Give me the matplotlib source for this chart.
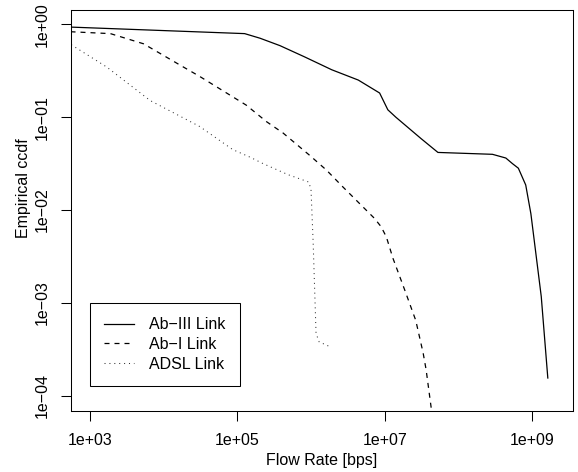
import matplotlib
matplotlib.use('Agg')
import matplotlib.pyplot as plt

plt.rcParams['font.family'] = ['Liberation Sans', 'DejaVu Sans']

# empirical ccdf of flow rates, one curve per link
ab3_rate = [562, 1.26e5, 2.04e5, 3.80e5, 8.13e5, 1.91e6, 4.37e6, 8.51e6, 1.10e7,
            1.41e7, 3.09e7, 5.25e7, 2.88e8, 4.37e8, 5.37e8, 6.46e8, 8.13e8,
            9.55e8, 1.32e9, 1.62e9]
ab3_ccdf = [0.933, 0.794, 0.708, 0.589, 0.447, 0.324, 0.251, 0.182, 0.120,
            0.100, 0.0589, 0.0417, 0.0398, 0.0363, 0.0316, 0.0282, 0.0186,
            0.00912, 0.00117, 0.000155]

ab1_rate = [550, 1.91e3, 5.37e3, 1.86e4, 3.09e4, 1.32e5, 2.51e5, 4.17e5, 9.55e5,
            1.62e6, 2.69e6, 4.57e6, 7.24e6, 8.91e6, 1.05e7, 1.29e7, 1.86e7,
            2.63e7, 3.31e7, 3.63e7, 4.37e7]
ab1_ccdf = [0.832, 0.794, 0.617, 0.347, 0.275, 0.135, 0.0891, 0.0676, 0.0389,
            0.0269, 0.0178, 0.0117, 0.00813, 0.00661, 0.00513, 0.00302, 0.00138,
            0.000646, 0.000288, 0.000191, 6.31e-5]

adsl_rate = [562, 1.70e3, 6.61e3, 3.09e4, 8.71e4, 1.48e5, 2.24e5, 4.90e5, 9.33e5,
             1.0e6, 1.07e6, 1.17e6, 1.29e6, 1.78e6]
adsl_ccdf = [0.603, 0.347, 0.151, 0.0794, 0.0447, 0.0372, 0.0316, 0.0240, 0.0200,
             0.0166, 0.00437, 0.000468, 0.000380, 0.000339]

labels = ['Ab\u2212III Link', 'Ab\u2212I Link', 'ADSL Link']

xticks = [1e3, 1e5, 1e7, 1e9]
xticklabels = ['1e+03', '1e+05', '1e+07', '1e+09']
yticks = [1e-4, 1e-3, 1e-2, 1e-1, 1e0]
yticklabels = ['1e\u221204', '1e\u221203', '1e\u221202', '1e\u221201', '1e+00']

fs = 11.5
fig = plt.figure(figsize=(5.78, 4.72), dpi=100)
ax = fig.add_axes([0.1228, 0.1292, 0.868, 0.8496])

ax.plot(ab3_rate, ab3_ccdf, color='black', lw=0.9, label=labels[0])
ax.plot(ab1_rate, ab1_ccdf, color='black', lw=0.9, linestyle=(0, (4, 4)),
        label=labels[1])
ax.plot(adsl_rate, adsl_ccdf, color='#333333', lw=0.75, linestyle=(0, (1, 3.7)),
        label=labels[2])

ax.set_xscale('log')
ax.set_yscale('log')
ax.set_xlim(5.58e2, 3.52e9)
ax.set_ylim(6.84e-5, 1.426)

ax.set_xticks(xticks)
ax.set_xticklabels(xticklabels)
ax.set_yticks(yticks)
ax.set_yticklabels(yticklabels, rotation=90, va='center')
ax.minorticks_off()
ax.tick_params(axis='both', direction='out', length=7, width=0.75,
               labelsize=fs, color='black')
ax.tick_params(axis='x', pad=9)
ax.tick_params(axis='y', pad=8)
for sp in ax.spines.values():
    sp.set_linewidth(0.75)
    sp.set_color('black')

fig.text(322 / 578, 1 - 461 / 472, 'Flow Rate [bps]', ha='center', va='center',
         fontsize=fs)
fig.text(24 / 578, 1 - 188 / 472, 'Empirical ccdf', ha='center', va='center',
         rotation=90, fontsize=fs)

leg = ax.legend(loc='upper left', bbox_to_anchor=(1e3, 1e-3),
                bbox_transform=ax.transData, borderaxespad=0, fontsize=fs,
                fancybox=False, framealpha=1, edgecolor='black',
                handlelength=1.9, handletextpad=0.9, borderpad=0.9,
                labelspacing=0.3)
leg.get_frame().set_linewidth(0.75)

fig.savefig('out.png', dpi=100)
